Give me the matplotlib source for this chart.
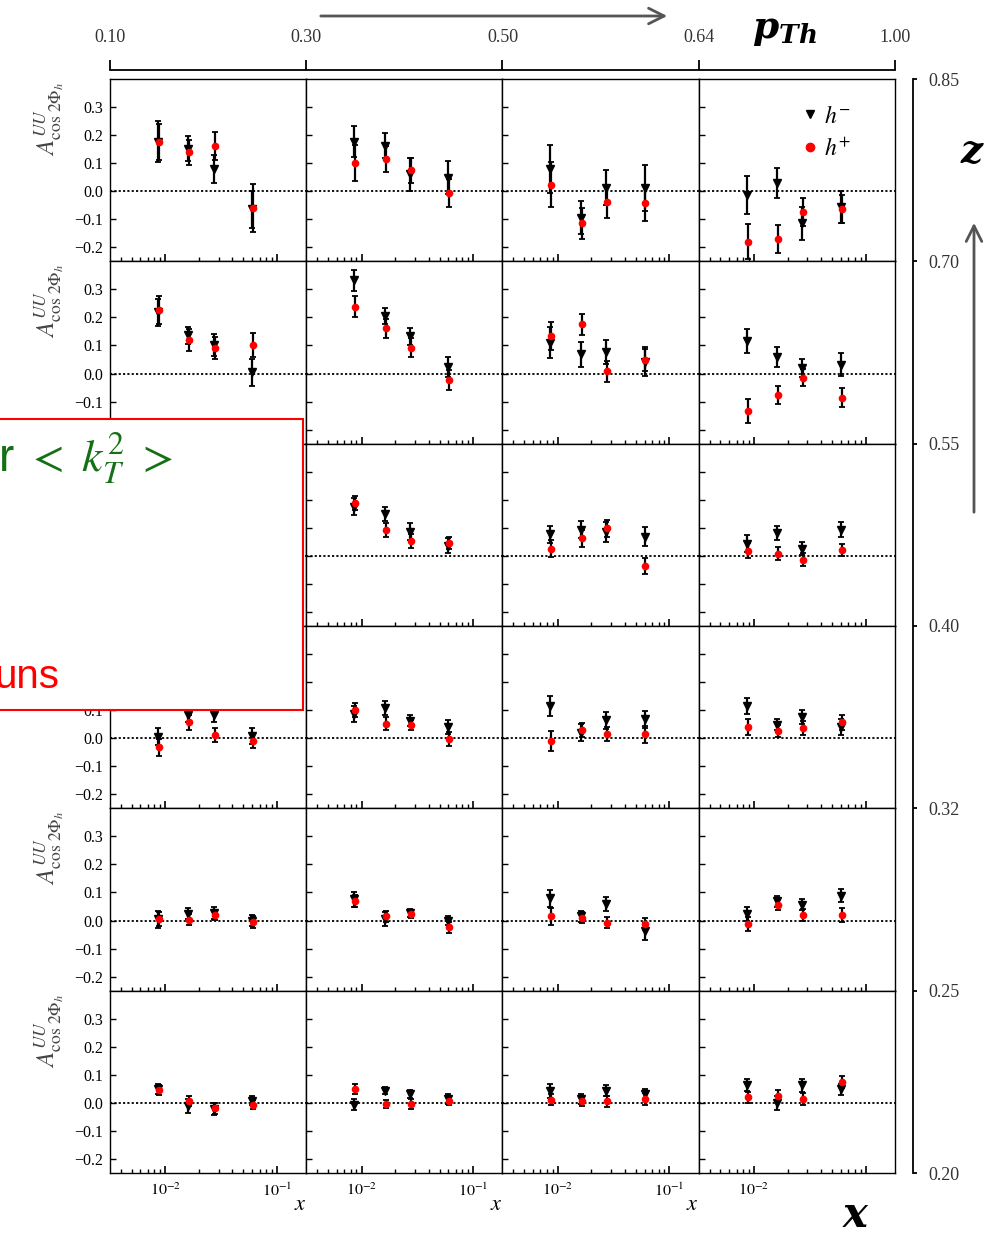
import numpy as np
import matplotlib
matplotlib.use("Agg")
import matplotlib.pyplot as plt
from matplotlib.lines import Line2D
from matplotlib.patches import Rectangle, FancyArrowPatch
from matplotlib.ticker import LogLocator, NullFormatter

plt.rcParams["font.family"] = ["Liberation Serif", "DejaVu Serif"]
plt.rcParams["mathtext.fontset"] = "stix"

# bin edges of the grid
pt_edges = ["0.10", "0.30", "0.50", "0.64", "1.00"]
z_edges = ["0.20", "0.25", "0.32", "0.40", "0.55", "0.70", "0.85"]
x_bins = [0.0086, 0.0161, 0.0271, 0.0598]

nan4 = [np.nan] * 4

# rows: z bins from high to low, columns: pT bins, inner lists: x bins
hm_val = [
    [[0.177, 0.151, 0.079, -0.065], [0.177, 0.162, 0.060, 0.048],
     [0.080, -0.094, 0.013, 0.010], [-0.013, 0.029, -0.115, -0.055]],
    [[0.218, 0.137, 0.101, 0.004], [0.333, 0.205, 0.133, 0.024],
     [0.110, 0.069, 0.077, 0.042], [0.115, 0.060, 0.020, 0.032]],
    [nan4, [0.175, 0.148, 0.086, 0.036],
     [0.077, 0.094, 0.086, 0.068], [0.044, 0.080, 0.026, 0.094]],
    [[0.005, 0.083, 0.083, 0.008], [0.086, 0.107, 0.062, 0.040],
     [0.115, 0.020, 0.064, 0.068], [0.115, 0.048, 0.076, 0.040]],
    [[0.004, 0.025, 0.027, 0.000], [0.075, 0.007, 0.027, 0.000],
     [0.079, 0.015, 0.060, -0.038], [0.024, 0.069, 0.057, 0.089]],
    [[0.050, -0.010, -0.021, 0.008], [-0.007, 0.044, 0.032, 0.014],
     [0.044, 0.014, 0.044, 0.032], [0.064, 0.000, 0.062, 0.048]],
]
hm_err = [
    [[0.072, 0.045, 0.050, 0.065], [0.055, 0.045, 0.060, 0.058],
     [0.085, 0.060, 0.062, 0.082], [0.068, 0.053, 0.060, 0.057]],
    [[0.048, 0.030, 0.040, 0.048], [0.037, 0.028, 0.030, 0.035],
     [0.055, 0.045, 0.043, 0.052], [0.043, 0.036, 0.033, 0.042]],
    [nan4, [0.030, 0.025, 0.030, 0.027],
     [0.030, 0.030, 0.036, 0.034], [0.030, 0.025, 0.022, 0.027]],
    [[0.030, 0.025, 0.025, 0.028], [0.028, 0.025, 0.020, 0.025],
     [0.035, 0.030, 0.030, 0.030], [0.030, 0.020, 0.025, 0.030]],
    [[0.030, 0.020, 0.020, 0.020], [0.025, 0.025, 0.015, 0.015],
     [0.030, 0.020, 0.025, 0.030], [0.025, 0.020, 0.020, 0.022]],
    [[0.017, 0.025, 0.022, 0.015], [0.020, 0.012, 0.015, 0.018],
     [0.025, 0.018, 0.020, 0.018], [0.020, 0.025, 0.022, 0.020]],
]
hp_val = [
    [[0.175, 0.139, 0.162, -0.060], [0.100, 0.115, 0.074, -0.005],
     [0.023, -0.114, -0.037, -0.043], [-0.180, -0.171, -0.073, -0.064]],
    [[0.226, 0.119, 0.092, 0.101], [0.238, 0.161, 0.092, -0.024],
     [0.133, 0.175, 0.008, 0.048], [-0.135, -0.077, -0.015, -0.087]],
    [nan4, [0.190, 0.092, 0.052, 0.046],
     [0.026, 0.062, 0.098, -0.036], [0.018, 0.008, -0.013, 0.020]],
    [[-0.033, 0.056, 0.012, -0.010], [0.100, 0.052, 0.048, -0.004],
     [-0.010, 0.029, 0.014, 0.014], [0.040, 0.026, 0.038, 0.056]],
    [[0.004, 0.003, 0.021, -0.005], [0.069, 0.015, 0.024, -0.024],
     [0.015, 0.010, -0.008, -0.012], [-0.012, 0.057, 0.019, 0.019]],
    [[0.045, 0.008, -0.020, -0.006], [0.048, -0.004, -0.004, 0.008],
     [0.012, 0.008, 0.005, 0.014], [0.020, 0.026, 0.014, 0.074]],
]
hp_err = [
    [[0.065, 0.045, 0.049, 0.085], [0.063, 0.045, 0.045, 0.050],
     [0.080, 0.055, 0.057, 0.062], [0.062, 0.049, 0.050, 0.050]],
    [[0.050, 0.040, 0.040, 0.042], [0.037, 0.035, 0.033, 0.035],
     [0.050, 0.037, 0.037, 0.040], [0.043, 0.032, 0.030, 0.034]],
    [nan4, [0.025, 0.024, 0.025, 0.022],
     [0.030, 0.030, 0.030, 0.030], [0.027, 0.022, 0.022, 0.022]],
    [[0.030, 0.027, 0.024, 0.025], [0.025, 0.023, 0.018, 0.025],
     [0.035, 0.025, 0.025, 0.030], [0.030, 0.020, 0.025, 0.025]],
    [[0.025, 0.020, 0.018, 0.020], [0.022, 0.020, 0.015, 0.020],
     [0.030, 0.020, 0.020, 0.020], [0.025, 0.020, 0.022, 0.024]],
    [[0.017, 0.018, 0.020, 0.015], [0.018, 0.015, 0.018, 0.015],
     [0.020, 0.018, 0.020, 0.020], [0.020, 0.020, 0.020, 0.022]],
]

W, H = 989, 1238
L, R, T, B = 110, 895, 79, 1173

# rows whose left labels sit under the note box
covered_rows = (2, 3)


def fx(px):
    return px / W


def fy(py):
    return 1 - py / H


fig = plt.figure(figsize=(W / 100, H / 100), dpi=100)
axes = fig.subplots(6, 4)
fig.subplots_adjust(left=fx(L), right=fx(R), top=fy(T), bottom=fy(B),
                    wspace=0, hspace=0)

ylabel = r"$A^{UU}_{\mathrm{cos}\ 2\Phi_{h}}$"
x = np.array(x_bins)

for r in range(6):
    for c in range(4):
        ax = axes[r, c]
        ax.set_xscale("log")
        ax.set_xlim(0.0032, 0.183)
        ax.set_ylim(-0.25, 0.40)
        ax.axhline(0, color="black", ls=(0, (1.2, 1.2)), lw=1.3, zorder=1)

        ax.errorbar(x, hm_val[r][c], yerr=hm_err[r][c], fmt="v", color="black",
                    ms=6, elinewidth=1.6, capsize=2.5, capthick=1.3, zorder=3)
        ax.errorbar(x * 1.02, hp_val[r][c], yerr=hp_err[r][c], fmt="o",
                    color="red", mec="red", ms=4.5, ecolor="black",
                    elinewidth=1.6, capsize=2.5, capthick=1.3, zorder=4)

        ax.set_yticks([-0.2, -0.1, 0.0, 0.1, 0.2, 0.3])
        ax.set_xticks([0.01, 0.1])
        ax.xaxis.set_minor_locator(LogLocator(base=10, subs=np.arange(2, 10)))
        ax.xaxis.set_minor_formatter(NullFormatter())
        ax.tick_params(axis="both", which="both", direction="in",
                       top=False, right=False, labelsize=11.5)
        ax.tick_params(axis="x", which="major", length=5, width=1.2, pad=7)
        ax.tick_params(axis="x", which="minor", length=3, width=1.0)
        ax.tick_params(axis="y", length=4, width=1.0, pad=5)
        for s in ax.spines.values():
            s.set_linewidth(1.0)

        if c == 0 and r != 2:
            labels = ["\u22120.2", "\u22120.1", "0.0", "0.1", "0.2", "0.3"]
            if r == 1:
                labels[0] = ""
            if r == 3:
                labels[4:] = ["", ""]
            ax.set_yticklabels(labels)
            if r not in covered_rows:
                fig.text(fx(50), fy(T + r * (B - T) / 6 + 40), ylabel, rotation=90,
                         ha="center", va="center", fontsize=18, color="#444444")
        else:
            ax.tick_params(axis="y", labelleft=False)

        if r == 5:
            if c < 3:
                ax.set_xticklabels([r"$10^{-2}$", r"$10^{-1}$"])
                ax.set_xlabel("$x$", loc="right", fontsize=16, labelpad=-3)
            else:
                ax.set_xticklabels([r"$10^{-2}$", ""])
        else:
            ax.tick_params(axis="x", labelbottom=False)

# legend in the high-z, high-pT panel
handles = [
    Line2D([], [], ls="none", marker="v", color="black", ms=6),
    Line2D([], [], ls="none", marker="o", color="red", ms=6),
]
axes[0, 3].legend(handles, [r"$h^{-}$", r"$h^{+}$"], loc="upper left",
                  bbox_to_anchor=(0.41, 0.97), frameon=False, fontsize=17,
                  handlelength=0.8, handletextpad=0.2, labelspacing=0.45)

# pT axis on top
ax_p = fig.add_axes([fx(L), fy(70), fx(R) - fx(L), 0.0001])
ax_p.set_xlim(0, 4)
ax_p.set_ylim(0, 1)
ax_p.set_xticks(range(5))
ax_p.set_xticklabels(pt_edges)
ax_p.set_yticks([])
for side in ["top", "left", "right"]:
    ax_p.spines[side].set_visible(False)
ax_p.spines["bottom"].set_linewidth(1.3)
ax_p.tick_params(axis="x", bottom=False, labelbottom=False, top=True,
                 labeltop=True, direction="out", length=7, width=1.3,
                 pad=10, labelsize=13, labelcolor="#333333")

# z axis on the right
ax_z = fig.add_axes([fx(913), fy(B), 0.0001, fy(T) - fy(B)])
ax_z.set_ylim(0, 6)
ax_z.set_xlim(0, 1)
ax_z.set_yticks(range(7))
ax_z.set_yticklabels(z_edges)
ax_z.set_xticks([])
for side in ["top", "bottom", "right"]:
    ax_z.spines[side].set_visible(False)
ax_z.spines["left"].set_linewidth(1.3)
ax_z.tick_params(axis="y", left=False, labelleft=False, right=True,
                 labelright=True, direction="out", length=3, width=1.3,
                 pad=8, labelsize=13, labelcolor="#333333")

# arrows and bold axis names
for p0, p1 in [((318, 16), (670, 16)), ((974, 515), (974, 220))]:
    fig.patches.append(FancyArrowPatch((fx(p0[0]), fy(p0[1])), (fx(p1[0]), fy(p1[1])),
                                       transform=fig.transFigure, arrowstyle="->",
                                       mutation_scale=28, color="#555555", lw=2))

bold = dict(math_fontfamily="dejavuserif", color="black")
fig.text(fx(752), fy(31), r"$\mathbfit{p}_{\mathbfit{Th}}$", ha="left",
         va="center", fontsize=27, **bold)
fig.text(fx(973), fy(153), r"$\mathbfit{z}$", ha="center", va="center",
         fontsize=28, **bold)
fig.text(fx(856), fy(1217), r"$\mathbfit{x}$", ha="center", va="center",
         fontsize=30, **bold)

# note box on the left
fig.patches.append(Rectangle((fx(-10), fy(710)), fx(313), fy(419) - fy(710),
                             transform=fig.transFigure, facecolor="white",
                             edgecolor="red", lw=1.5, zorder=5))
fig.text(fx(-2), fy(472), r"r $<\ k_T^2\ >$", ha="left", va="baseline",
         fontsize=33, color="#157015", family="Liberation Sans",
         math_fontfamily="stix", zorder=6)
fig.text(fx(-6), fy(688), "uns", ha="left", va="baseline", fontsize=29,
         color="red", family="Liberation Sans", zorder=6)

fig.savefig("out.png", dpi=100)
